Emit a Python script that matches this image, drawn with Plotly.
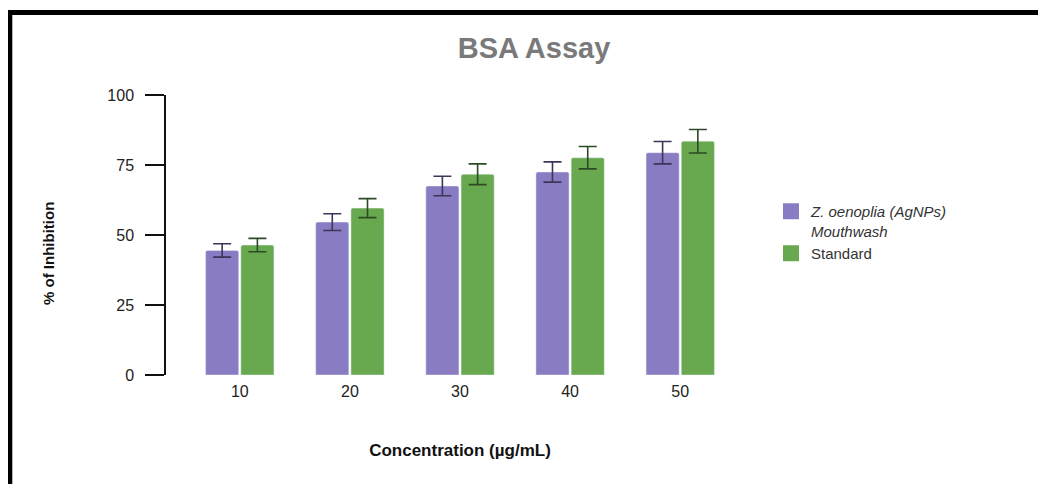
import plotly.graph_objects as go

categories = ["10", "20", "30", "40", "50"]
sample_values = [44.5, 54.6, 67.5, 72.5, 79.4]
sample_errors = [2.4, 3.0, 3.5, 3.6, 4.0]
standard_values = [46.4, 59.6, 71.7, 77.6, 83.5]
standard_errors = [2.4, 3.4, 3.7, 4.0, 4.2]
y_ticks = [0, 25, 50, 75, 100]

sample_name = "<i>Z. oenoplia (AgNPs)<br>Mouthwash</i>"
standard_name = "Standard"
sample_color = "#8a7cc2"
standard_color = "#68a84e"

FONT = "Liberation Sans, Arial, Helvetica, sans-serif"

# page offset (body margin) -> work in page pixel coordinates
OFF = 8
W, H = 1046 - OFF, 484 - OFF
L, R, T, B = 166 - OFF, 754 - OFF, 95 - OFF, 375 - OFF
pw, ph = R - L, B - T

def px2x(px):
    return (px - OFF - L) / pw

def py2y(py):
    return (B - (py - OFF)) / ph

fig = go.Figure()
fig.add_trace(go.Bar(
    x=categories, y=sample_values, name=sample_name, showlegend=False,
    marker=dict(color=sample_color, cornerradius=2),
    error_y=dict(type="data", array=sample_errors, color="#3e3656", thickness=1.6, width=9),
))
fig.add_trace(go.Bar(
    x=categories, y=standard_values, name=standard_name, showlegend=False,
    marker=dict(color=standard_color, cornerradius=2),
    error_y=dict(type="data", array=standard_errors, color="#2c4a25", thickness=1.6, width=9),
))
# legend entries with larger square symbols
for nm, col in [(sample_name, sample_color), (standard_name, standard_color)]:
    fig.add_trace(go.Scatter(
        x=[None], y=[None], mode="markers", name=nm,
        marker=dict(symbol="square", size=16, color=col),
    ))

fig.update_layout(
    width=W, height=H,
    margin=dict(l=L, r=W - R, t=T, b=H - B, pad=0),
    paper_bgcolor="white", plot_bgcolor="white",
    barmode="group", bargap=0.36, bargroupgap=0.06,
    font=dict(family=FONT, color="#222222", size=16),
    title=dict(text="<b>BSA Assay</b>", x=(534 - OFF) / W, xanchor="center",
               y=1 - (48 - OFF) / H, yanchor="middle",
               font=dict(family=FONT, size=29, color="#7a7a7a")),
    xaxis=dict(
        type="category", range=[-0.67, 4.67],
        showline=False, showgrid=False, ticks="", zeroline=False,
        ticklabelstandoff=5,
        tickfont=dict(size=16, color="#222222"),
        title=dict(text="<b>Concentration (µg/mL)</b>",
                   font=dict(size=17, color="#111111"), standoff=45),
    ),
    yaxis=dict(
        range=[0, 100], tickvals=y_ticks,
        showline=True, linecolor="#111111", linewidth=1.5,
        ticks="outside", ticklen=19, tickwidth=1.5, tickcolor="#111111",
        ticklabelstandoff=8,
        showgrid=False, zeroline=False,
        tickfont=dict(size=16, color="#222222"),
    ),
    legend=dict(
        x=px2x(771), y=py2y(195), xanchor="left", yanchor="top",
        valign="top",
        font=dict(size=15, color="#333333"),
        itemwidth=30, tracegroupgap=4,
        bgcolor="rgba(0,0,0,0)",
    ),
    showlegend=True,
    annotations=[dict(
        text="<b>% of Inhibition</b>", textangle=-90,
        x=px2x(48), y=py2y(254), xref="paper", yref="paper",
        xanchor="center", yanchor="middle", showarrow=False,
        font=dict(family=FONT, size=15, color="#111111"),
    )],
    shapes=[
        dict(type="line", xref="paper", yref="paper",
             x0=px2x(7), x1=px2x(1046 + 10), y0=py2y(12.5), y1=py2y(12.5),
             line=dict(color="black", width=5)),
        dict(type="line", xref="paper", yref="paper",
             x0=px2x(9.8), x1=px2x(9.8), y0=py2y(10), y1=py2y(484 + 10),
             line=dict(color="black", width=5)),
    ],
)

fig.write_html("out.html")
